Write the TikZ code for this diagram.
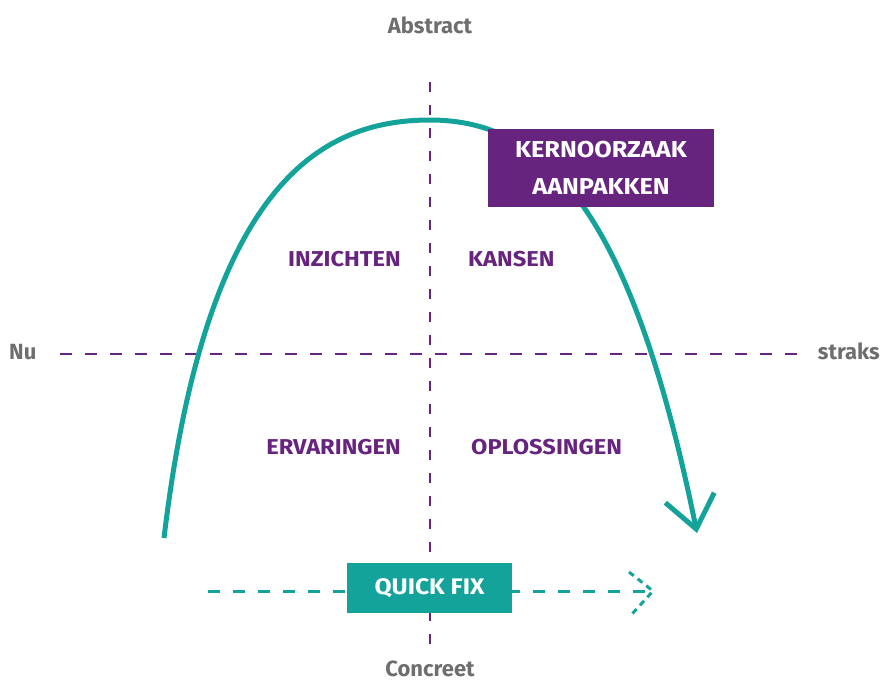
\documentclass[tikz,border=0pt]{standalone}
\usepackage{fontspec}
\setmainfont{Fira Sans}
\newfontfamily\dinfont[FakeStretch=1.1]{Fira Sans}
\usetikzlibrary{arrows.meta}
\definecolor{teal1}{HTML}{14A39A}
\definecolor{purp}{HTML}{67247F}
\definecolor{greytxt}{HTML}{6E6E6E}
\begin{document}
\begin{tikzpicture}[x=1pt,y=-1pt,
  axisv/.style={purp, line width=2pt, dash pattern=on 10pt off 13pt},
  axish/.style={purp, line width=2pt, dash pattern=on 12pt off 13pt},
  quad/.style={text=purp, font=\dinfont\bfseries\fontsize{21.5}{25}\selectfont, inner sep=0pt},
  pole/.style={text=greytxt, font=\bfseries\fontsize{22}{25}\selectfont, inner sep=0pt},
  curve/.style={teal1, line width=5pt},
  kbox/.style={fill=purp, text=white, font=\dinfont\bfseries\fontsize{23}{37}\selectfont, align=center, minimum width=226pt, minimum height=78pt, inner sep=0pt},
  qbox/.style={fill=teal1, text=white, font=\dinfont\bfseries\fontsize{22.5}{28}\selectfont, minimum width=165pt, minimum height=50pt, inner sep=0pt},
  qline/.style={teal1, line width=3pt, dash pattern=on 12pt off 13pt},
  qtip/.style={teal1, line width=3pt, dash pattern=on 6pt off 5pt},
]
\useasboundingbox (0,0) rectangle (882,681);
% axes
\coordinate (vtop) at (430,82);
\coordinate (vbot) at (430,650);
\coordinate (hl) at (60,354);
\coordinate (hr) at (800,354);
\draw[axisv] (vtop) -- (vbot);
\draw[axish] (hl) -- (hr);
% main curve
\coordinate (cs) at (164,538);
\coordinate (apex) at (430,120);
\coordinate (ce) at (697,533);
\draw[curve, -{Straight Barb[length=32pt, width=50pt]}] (cs) .. controls (206,185) and (320,120) .. (apex) .. controls (550,120) and (633,219) .. (ce);
\node[kbox] (kern) at (601,168) {KERNOORZAAK\\AANPAKKEN};
% quick fix
\coordinate (qs) at (208,591);
\coordinate (qe) at (650,591);
\draw[qline] (qs) -- (qe);
\coordinate (qa) at (629,572);
\coordinate (qt) at (653,591);
\coordinate (qb) at (632,614);
\draw[qtip] (qa) -- (qt) -- (qb);
\node[qbox] (quick) at (429.5,588) {QUICK FIX};
% quadrant labels
\node[quad, anchor=base east] (inz) at (401,266) {INZICHTEN};
\node[quad, anchor=base west] (kan) at (468,266) {KANSEN};
\node[quad, anchor=base east] (erv) at (401,454) {ERVARINGEN};
\node[quad, anchor=base west] (opl) at (471,454) {OPLOSSINGEN};
% pole labels
\node[pole, anchor=base] (abs) at (430,33) {Abstract};
\node[pole, anchor=base] (con) at (430,676) {Concreet};
\node[pole, anchor=base west] (nu) at (9,359) {Nu};
\node[pole, anchor=base east] (str) at (880,359) {straks};
\end{tikzpicture}
\end{document}
